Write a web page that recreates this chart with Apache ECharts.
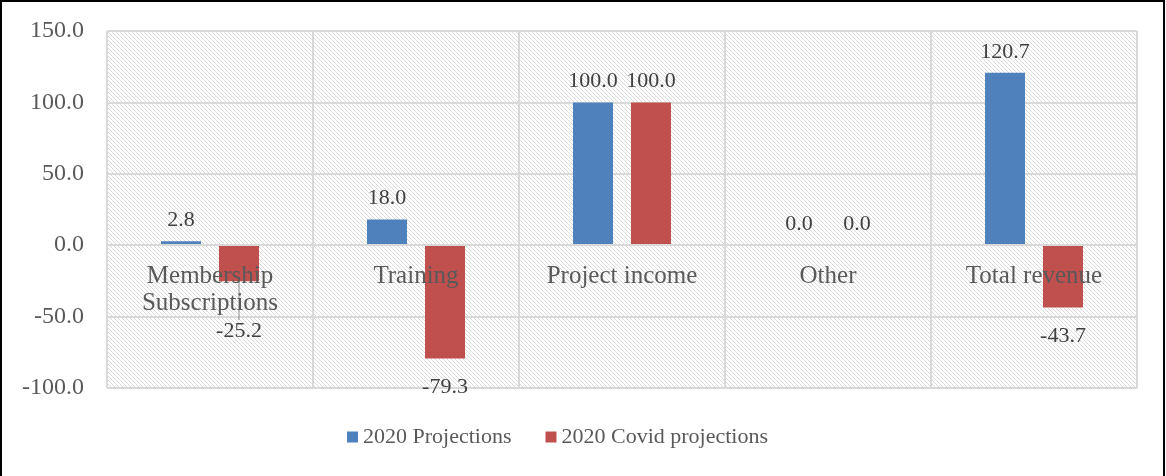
<!DOCTYPE html>
<html>
<head>
<meta charset="utf-8">
<script src="https://cdn.jsdelivr.net/npm/echarts@6/dist/echarts.min.js"></script>
<style>
html,body{margin:0;padding:0;background:#fff;}
#chart{width:1166px;height:476px;}
</style>
</head>
<body>
<div id="chart"></div>
<script>
var categories = ['Membership\nSubscriptions', 'Training', 'Project income', 'Other', 'Total revenue'];
var projections2020 = [2.8, 18.0, 100.0, 0.0, 120.7];
var covidProjections2020 = [-25.2, -79.3, 100.0, 0.0, -43.7];
var seriesNames = ['2020 Projections', '2020 Covid projections'];
var yTicks = [-100, -50, 0, 50, 100, 150];

var FONT = 'Liberation Serif';
var GRID = { left: 107, right: 29, top: 31, bottom: 88 };
var CHART_H = 476;

// hatch pattern for plot background
var pc = document.createElement('canvas');
pc.width = 8; pc.height = 8;
var ctx = pc.getContext('2d');
ctx.fillStyle = '#ffffff';
ctx.fillRect(0, 0, 8, 8);
ctx.strokeStyle = '#dadada';
ctx.lineWidth = 1;
for (var k = -8; k <= 8; k += 4) {
  ctx.beginPath();
  ctx.moveTo(k, 0);
  ctx.lineTo(k + 8, 8);
  ctx.stroke();
}

// place the category axis on the zero line
var yMin = yTicks[0], yMax = yTicks[yTicks.length - 1];
var plotH = CHART_H - GRID.top - GRID.bottom;
var zeroOffset = -plotH * (0 - yMin) / (yMax - yMin);

function toItems(arr) {
  return arr.map(function (v) {
    return {
      value: v,
      label: { position: v < 0 ? 'bottom' : 'top', distance: v < 0 ? 18 : 10 }
    };
  });
}

var covidItems = toItems(covidProjections2020);
covidItems[0].labelLine = { show: true, lineStyle: { color: '#8c8c8c', width: 1 } };

var valueLabel = {
  show: true,
  color: '#404040',
  fontFamily: FONT,
  fontSize: 22,
  formatter: function (p) { return p.value.toFixed(1); }
};

var chart = echarts.init(document.getElementById('chart'), null, { renderer: 'canvas' });
chart.setOption({
  animation: false,
  backgroundColor: '#ffffff',
  grid: {
    left: GRID.left, right: GRID.right, top: GRID.top, bottom: GRID.bottom,
    show: true,
    backgroundColor: { image: pc, repeat: 'repeat' },
    borderWidth: 0
  },
  legend: {
    left: 347, top: 426,
    padding: 0,
    icon: 'rect',
    itemWidth: 11, itemHeight: 11,
    itemGap: 34,
    textStyle: { fontFamily: FONT, fontSize: 22, color: '#595959' },
    data: seriesNames
  },
  xAxis: {
    type: 'category',
    data: categories,
    z: 5,
    offset: zeroOffset,
    axisLine: { show: true, onZero: false, lineStyle: { color: '#d9d9d9', width: 2 } },
    axisTick: { show: false },
    splitLine: { show: true, lineStyle: { color: '#d9d9d9', width: 2 } },
    axisLabel: {
      margin: 18,
      color: '#595959',
      fontFamily: FONT,
      fontSize: 25,
      lineHeight: 27,
      interval: 0
    }
  },
  yAxis: {
    type: 'value',
    min: yMin,
    max: yMax,
    interval: 50,
    axisLine: { show: false },
    axisTick: { show: false },
    splitLine: { show: true, lineStyle: { color: '#d9d9d9', width: 2 } },
    axisLabel: {
      margin: 23,
      color: '#595959',
      fontFamily: FONT,
      fontSize: 24,
      formatter: function (v) { return v.toFixed(1); }
    }
  },
  series: [
    {
      name: seriesNames[0],
      type: 'bar',
      barWidth: 40,
      barGap: '45%',
      itemStyle: { color: '#4f81bd' },
      label: valueLabel,
      data: toItems(projections2020)
    },
    {
      name: seriesNames[1],
      type: 'bar',
      barWidth: 40,
      barGap: '45%',
      itemStyle: { color: '#c0504d' },
      label: valueLabel,
      labelLayout: function (p) {
        if (p.dataIndex === 0) { return { dy: 21 }; }
      },
      data: covidItems
    }
  ],
  graphic: [{
    type: 'rect',
    silent: true,
    z: 100,
    shape: { x: 1, y: 1, width: 1163, height: 490 },
    style: { fill: 'none', stroke: '#000000', lineWidth: 2 }
  }]
});
</script>
</body>
</html>
